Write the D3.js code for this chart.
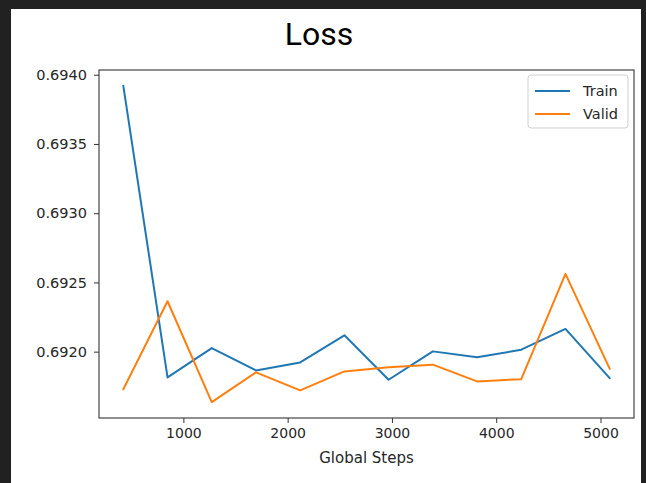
<!DOCTYPE html>
<html>
<head>
<meta charset="utf-8">
<script src="https://cdn.jsdelivr.net/npm/d3@7"></script>
<style>
  html, body { margin: 0; padding: 0; background: #212121; }
  svg { display: block; }
</style>
</head>
<body>
<div id="chart"></div>
<script>
// Data
const steps = [424, 848, 1272, 1696, 2120, 2544, 2968, 3392, 3816, 4240, 4664, 5088];
const trainLoss = [0.69392, 0.691814, 0.692026, 0.691864, 0.691922, 0.692118,
                   0.691797, 0.692002, 0.691959, 0.692014, 0.692164, 0.691809];
const validLoss = [0.691729, 0.692364, 0.691635, 0.691850, 0.691720, 0.691857,
                   0.691888, 0.691906, 0.691785, 0.691801, 0.692562, 0.691877];
const seriesNames = ['Train', 'Valid'];
const seriesColors = ['#1f77b4', '#ff7f0e'];
const xTicks = [1000, 2000, 3000, 4000, 5000];
const yTicks = [0.6920, 0.6925, 0.6930, 0.6935, 0.6940];

const width = 646, height = 483;
const plot = { left: 99, top: 70, right: 634, bottom: 418 };

// matplotlib-style 5% margins around the data
function padded(ext) {
    const m = (ext[1] - ext[0]) * 0.05;
    return [ext[0] - m, ext[1] + m];
}

const x = d3.scaleLinear()
    .domain(padded(d3.extent(steps)))
    .range([plot.left, plot.right]);

const y = d3.scaleLinear()
    .domain(padded(d3.extent(trainLoss.concat(validLoss))))
    .range([plot.bottom, plot.top]);

const svg = d3.select('#chart').append('svg')
    .attr('width', width)
    .attr('height', height);

// white figure area inside the dark frame
svg.append('rect')
    .attr('x', 11).attr('y', 9)
    .attr('width', 630).attr('height', height - 9)
    .attr('fill', '#ffffff');

svg.append('text')
    .attr('x', 319)
    .attr('y', 45)
    .attr('text-anchor', 'middle')
    .style('font-family', 'Roboto, "Liberation Sans", sans-serif')
    .style('font-size', '32px')
    .style('fill', '#000')
    .text('Loss');

const tickFont = 'DejaVu Sans, sans-serif';

// x axis
const xAxis = svg.append('g')
    .attr('transform', `translate(0,${plot.bottom})`)
    .call(d3.axisBottom(x).tickValues(xTicks).tickSize(5).tickPadding(5).tickFormat(d3.format('d')));
xAxis.select('.domain').remove();
xAxis.selectAll('line').attr('stroke', '#333');
xAxis.selectAll('text')
    .style('font-family', tickFont)
    .style('font-size', '14px')
    .style('fill', '#262626');

// y axis
const yAxis = svg.append('g')
    .attr('transform', `translate(${plot.left},0)`)
    .call(d3.axisLeft(y).tickValues(yTicks).tickSize(5).tickPadding(7).tickFormat(d3.format('.4f')));
yAxis.select('.domain').remove();
yAxis.selectAll('line').attr('stroke', '#333');
yAxis.selectAll('text')
    .style('font-family', tickFont)
    .style('font-size', '14.5px')
    .style('fill', '#262626');

svg.append('text')
    .attr('x', (plot.left + plot.right) / 2)
    .attr('y', 463)
    .attr('text-anchor', 'middle')
    .style('font-family', tickFont)
    .style('font-size', '15px')
    .style('fill', '#262626')
    .text('Global Steps');

// lines
const line = d3.line()
    .x((d, i) => x(steps[i]))
    .y(d => y(d));

[trainLoss, validLoss].forEach((vals, k) => {
    svg.append('path')
        .datum(vals)
        .attr('fill', 'none')
        .attr('stroke', seriesColors[k])
        .attr('stroke-width', 2)
        .attr('stroke-linejoin', 'round')
        .attr('stroke-linecap', 'square')
        .attr('d', line);
});

// frame
svg.append('rect')
    .attr('x', plot.left).attr('y', plot.top)
    .attr('width', plot.right - plot.left)
    .attr('height', plot.bottom - plot.top)
    .attr('fill', 'none')
    .attr('stroke', '#333')
    .attr('stroke-width', 1.1);

// legend
const legend = svg.append('g').attr('transform', 'translate(528,75)');
legend.append('rect')
    .attr('width', 100).attr('height', 53)
    .attr('rx', 3)
    .attr('fill', 'rgba(255,255,255,0.8)')
    .attr('stroke', '#d0d0d0');

seriesNames.forEach((name, i) => {
    const ly = 16 + i * 23;
    legend.append('line')
        .attr('x1', 7).attr('x2', 42)
        .attr('y1', ly).attr('y2', ly)
        .attr('stroke', seriesColors[i])
        .attr('stroke-width', 2);
    legend.append('text')
        .attr('x', 55)
        .attr('y', ly + 5)
        .style('font-family', tickFont)
        .style('font-size', '14.5px')
        .style('fill', '#262626')
        .text(name);
});
</script>
</body>
</html>
